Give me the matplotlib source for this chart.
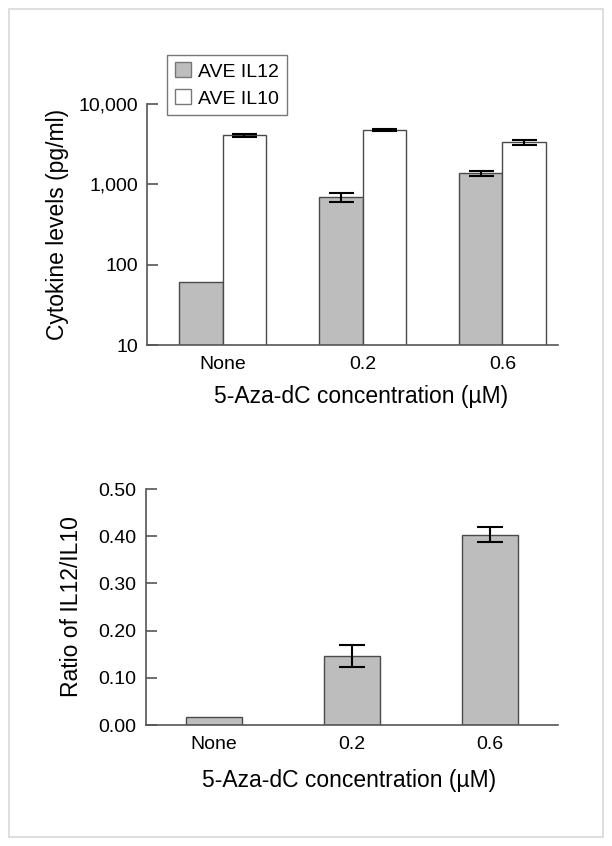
import matplotlib
matplotlib.use("Agg")
import matplotlib.pyplot as plt
import numpy as np
from matplotlib.patches import Rectangle

# ---- data ----
categories = ["None", "0.2", "0.6"]
il12_mean = [60, 697, 1374]
il12_err = [0, 90, 105]
il10_mean = [4085, 4754, 3343]
il10_err = [150, 200, 250]
ratio_mean = [0.016, 0.146, 0.403]
ratio_err = [0.0, 0.023, 0.016]
top_yticks = [10, 100, 1000, 10000]
top_yticklabels = ["10", "100", "1,000", "10,000"]
bot_yticks = [0.0, 0.1, 0.2, 0.3, 0.4, 0.5]
bot_yticklabels = ["0.00", "0.10", "0.20", "0.30", "0.40", "0.50"]

plt.rcParams['font.family'] = ['Liberation Sans', 'DejaVu Sans']

W, H = 612, 846
fig = plt.figure(figsize=(W / 100, H / 100), dpi=100)

# light frame
fig.patches.append(Rectangle((9 / W, 1 - 837 / H), (603 - 9) / W, (837 - 9) / H,
                             transform=fig.transFigure, fill=False,
                             edgecolor="#d8d8d8", linewidth=1.2))

gray = "#bdbdbd"
edge = "#4a4a4a"
spine_c = "#555555"

def style(ax):
    ax.spines['top'].set_visible(False)
    ax.spines['right'].set_visible(False)
    for s in ('left', 'bottom'):
        ax.spines[s].set_color(spine_c)
        ax.spines[s].set_linewidth(1.2)
    ax.tick_params(axis='y', direction='in', length=8, width=1.2, color=spine_c,
                   labelsize=14, pad=6.5)
    ax.tick_params(axis='x', length=0, labelsize=14, pad=8)

def draw_err(ax, xs, ys, errs, cap):
    xs = np.asarray(xs, float)
    ys = np.asarray(ys, float)
    errs = np.asarray(errs, float)
    m = errs > 0
    ax.errorbar(xs[m], ys[m], yerr=errs[m], fmt='none', capsize=cap,
                ecolor='black', elinewidth=1.5, capthick=1.5, zorder=3)

# ---- top chart ----
ax1 = fig.add_axes([147 / W, 1 - 345 / H, (558 - 147) / W, (345 - 104) / H])
x = np.arange(len(categories))
bw = 0.31
ax1.bar(x - bw / 2, il12_mean, bw, color=gray, edgecolor=edge, linewidth=1.0,
        label="AVE IL12")
ax1.bar(x + bw / 2, il10_mean, bw, color="white", edgecolor=edge, linewidth=1.0,
        label="AVE IL10")
draw_err(ax1, x - bw / 2, il12_mean, il12_err, 9)
draw_err(ax1, x + bw / 2, il10_mean, il10_err, 9)
ax1.set_yscale('log')
ax1.set_ylim(10, 10000)
ax1.set_xlim(-0.5415, 2.398)
ax1.set_yticks(top_yticks)
ax1.set_yticklabels(top_yticklabels)
ax1.yaxis.set_minor_locator(matplotlib.ticker.NullLocator())
ax1.set_xticks(x)
ax1.set_xticklabels(categories)
style(ax1)
ax1.set_ylabel("Cytokine levels (pg/ml)", fontsize=16.5, va='center')
ax1.yaxis.set_label_coords((57.5 - 147) / (558 - 147), 0.5)
ax1.set_xlabel("5-Aza-dC concentration (µM)", fontsize=16.5, va='center')
ax1.xaxis.set_label_coords((361 - 147) / (558 - 147), -(396.7 - 345) / (345 - 104))
leg = ax1.legend(loc='upper left', bbox_to_anchor=((167.3 - 147) / 411, (345 - 54.7) / 241),
                 fontsize=14, frameon=True, fancybox=False, handlelength=0.8,
                 handleheight=0.8, handletextpad=0.4, borderpad=0.4,
                 labelspacing=0.45, borderaxespad=0)
leg.get_frame().set_edgecolor("#555555")
leg.get_frame().set_linewidth(1.0)
for h in leg.legend_handles:
    h.set_edgecolor("#777777")

# ---- bottom chart ----
ax2 = fig.add_axes([145.7 / W, 1 - 725 / H, (557.7 - 145.7) / W, (725 - 489) / H])
bw2 = 0.406
ax2.bar(x, ratio_mean, bw2, color=gray, edgecolor=edge, linewidth=1.0)
draw_err(ax2, x, ratio_mean, ratio_err, 9.5)
ax2.set_ylim(0, 0.5)
ax2.set_xlim(-0.495, 2.49)
ax2.set_yticks(bot_yticks)
ax2.set_yticklabels(bot_yticklabels)
ax2.set_xticks(x)
ax2.set_xticklabels(categories)
style(ax2)
ax2.set_ylabel("Ratio of IL12/IL10", fontsize=16.5, va='center')
ax2.yaxis.set_label_coords((72 - 145.7) / 412, 0.5)
ax2.set_xlabel("5-Aza-dC concentration (µM)", fontsize=16.5, va='center')
ax2.xaxis.set_label_coords((349 - 145.7) / 412, -(780 - 725) / (725 - 489))

fig.savefig("out.png", dpi=100)
